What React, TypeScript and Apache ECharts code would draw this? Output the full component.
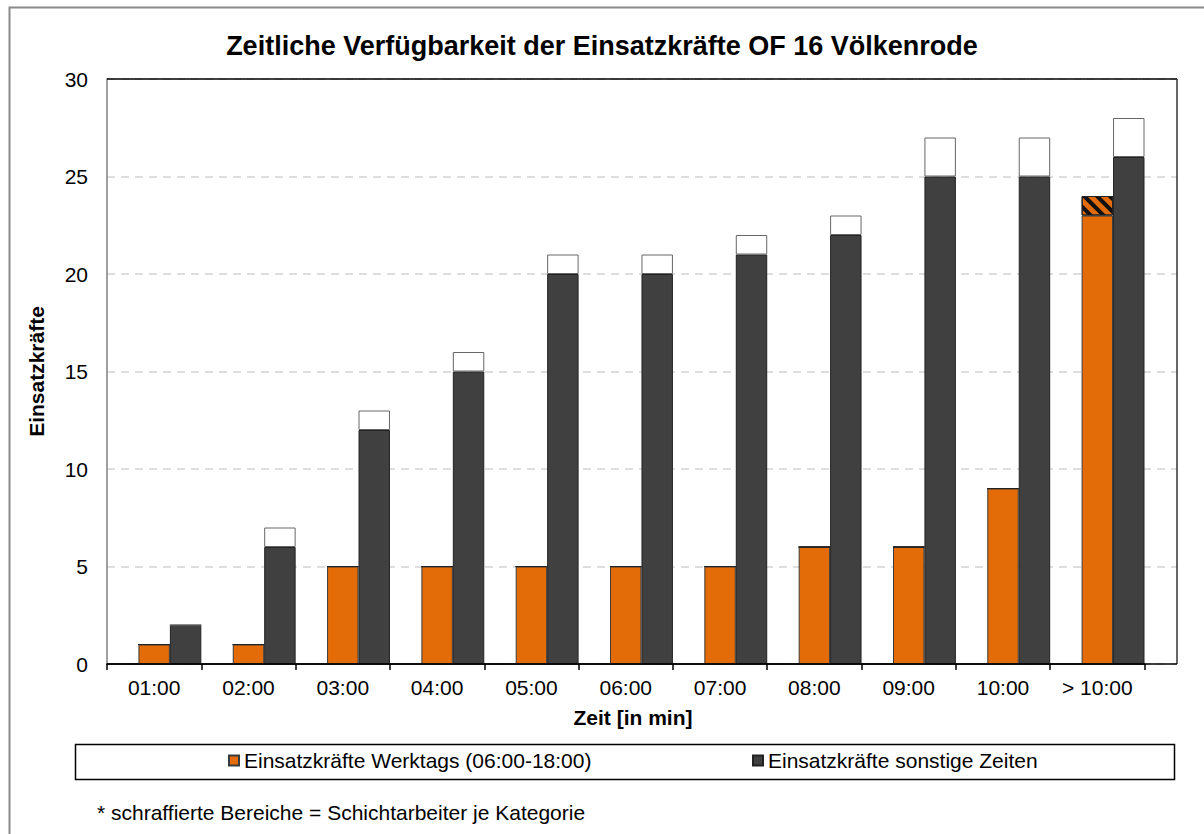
import React, { useEffect, useRef } from 'react';
import * as echarts from 'echarts';

const categories = ['01:00', '02:00', '03:00', '04:00', '05:00', '06:00', '07:00', '08:00', '09:00', '10:00', '> 10:00'];
const werktags = [1, 1, 5, 5, 5, 5, 5, 6, 6, 9, 23];
const werktagsSchicht = [0, 0, 0, 0, 0, 0, 0, 0, 0, 0, 1];
const sonstige = [2, 6, 12, 15, 20, 20, 21, 22, 25, 25, 26];
const sonstigeSchicht = [0, 1, 1, 1, 1, 1, 1, 1, 2, 2, 2];
const spacer = [0, 0, 0, 0, 0, 0, 0, 0, 0, 0, 0];
const yMin = 0;
const yMax = 30;
const yStep = 5;

const titleText = 'Zeitliche Verfügbarkeit der Einsatzkräfte OF 16 Völkenrode';
const nameWerktags = 'Einsatzkräfte Werktags (06:00-18:00)';
const nameSonstige = 'Einsatzkräfte sonstige Zeiten';
const yName = 'Einsatzkräfte';
const xName = 'Zeit [in min]';
const footnote = '* schraffierte Bereiche = Schichtarbeiter je Kategorie';

const FONT = '"Liberation Sans", Arial, sans-serif';
const ORANGE = '#E36C09';
const DARK = '#404040';

export default function App() {
  const ref = useRef<HTMLDivElement>(null);
  useEffect(() => {
    if (!ref.current) return;
    const chart = echarts.init(ref.current, undefined, { renderer: 'svg' });
    const L = 107, T = 79, B = 664, R1 = 1144.5, R2 = 1177;
    const H = B - T;
    const legendText = { fontSize: 21, color: '#000', fontFamily: FONT };
    chart.setOption({
      animation: false,
      backgroundColor: '#fff',
      textStyle: { fontFamily: FONT },
      title: {
        text: titleText,
        left: 'center',
        top: 27,
        textStyle: { fontSize: 27, fontWeight: 'bold', color: '#000', fontFamily: FONT },
      },
      grid: [
        { left: L, top: T, width: R1 - L, height: H },
        { left: L, top: T, width: R2 - L, height: H },
      ],
      legend: [
        {
          data: [nameWerktags], left: 223, top: 745, itemWidth: 10, itemHeight: 10,
          icon: 'rect', selectedMode: false, textStyle: legendText,
        },
        {
          data: [nameSonstige], left: 747, top: 745, itemWidth: 10, itemHeight: 10,
          icon: 'rect', selectedMode: false, textStyle: legendText,
        },
      ],
      xAxis: [
        {
          type: 'category', gridIndex: 0, data: categories,
          axisLine: { show: true, lineStyle: { color: '#000', width: 1.5 } },
          axisTick: { show: true, length: 6, lineStyle: { color: '#000', width: 1.5 } },
          axisLabel: { fontSize: 21, color: '#000', margin: 13, fontFamily: FONT },
          splitLine: { show: false },
        },
        { type: 'value', gridIndex: 1, min: 0, max: 1, show: false },
      ],
      yAxis: [
        {
          type: 'value', gridIndex: 0, min: yMin, max: yMax, interval: yStep,
          axisLine: { show: true, lineStyle: { color: '#808080', width: 1.5 } },
          axisTick: { show: false },
          axisLabel: { fontSize: 21, color: '#000', margin: 19, fontFamily: FONT },
          splitLine: { show: false },
        },
        {
          type: 'value', gridIndex: 1, min: yMin, max: yMax, interval: yStep,
          axisLine: { show: false }, axisTick: { show: false }, axisLabel: { show: false },
          splitLine: { show: true, lineStyle: { color: '#d4d4d4', width: 1.5, type: [8, 6] } },
        },
      ],
      series: [
        {
          name: 'spacer', type: 'bar', stack: 'spacer', xAxisIndex: 0, yAxisIndex: 0,
          data: spacer, itemStyle: { color: 'rgba(0,0,0,0)', borderWidth: 0 }, silent: true,
          barCategoryGap: '0%', barGap: '0%',
        },
        {
          name: nameWerktags, type: 'bar', stack: 'w', xAxisIndex: 0, yAxisIndex: 0,
          data: werktags, itemStyle: { color: ORANGE, borderColor: '#3a3a3a', borderWidth: 1 },
          barCategoryGap: '0%', barGap: '0%',
        },
        {
          name: 'Schichtarbeiter Werktags', type: 'bar', stack: 'w', xAxisIndex: 0, yAxisIndex: 0,
          data: werktagsSchicht,
          itemStyle: {
            color: ORANGE, borderColor: '#222', borderWidth: 1,
            decal: {
              symbol: 'rect', symbolSize: 1, color: '#111',
              dashArrayX: [1, 0], dashArrayY: [4, 5], rotation: Math.PI / 4,
            },
          },
          barCategoryGap: '0%', barGap: '0%',
        },
        {
          name: nameSonstige, type: 'bar', stack: 's', xAxisIndex: 0, yAxisIndex: 0,
          data: sonstige, itemStyle: { color: DARK, borderColor: '#222', borderWidth: 1 },
          barCategoryGap: '0%', barGap: '0%',
        },
        {
          name: 'Schichtarbeiter sonstige', type: 'bar', stack: 's', xAxisIndex: 0, yAxisIndex: 0,
          data: sonstigeSchicht, itemStyle: { color: '#fff', borderColor: '#666', borderWidth: 1 },
          barCategoryGap: '0%', barGap: '0%',
        },
      ],
      graphic: [
        {
          type: 'rect', silent: true, z: -1,
          shape: { x: 9.5, y: 7.5, width: 1220, height: 850 },
          style: { fill: 'none', stroke: '#8a8a8a', lineWidth: 2 },
        },
        { type: 'line', silent: true, z: 20, shape: { x1: L, y1: T, x2: R2, y2: T }, style: { stroke: '#000', lineWidth: 1.5 } },
        { type: 'line', silent: true, z: 20, shape: { x1: R2, y1: T, x2: R2, y2: B }, style: { stroke: '#333', lineWidth: 1.5 } },
        { type: 'line', silent: true, z: 20, shape: { x1: L, y1: B, x2: R2, y2: B }, style: { stroke: '#000', lineWidth: 1.5 } },
        {
          type: 'rect', silent: true,
          shape: { x: 75.5, y: 744.5, width: 1099, height: 35 },
          style: { fill: 'none', stroke: '#000', lineWidth: 1.5 },
        },
        {
          type: 'text', silent: true, x: 36, y: (T + B) / 2, rotation: Math.PI / 2,
          style: { text: yName, font: `bold 21px ${FONT}`, fill: '#000', align: 'center', verticalAlign: 'middle' },
        },
        {
          type: 'text', silent: true, x: 633, y: 717,
          style: { text: xName, font: `bold 21px ${FONT}`, fill: '#000', align: 'center', verticalAlign: 'middle' },
        },
        {
          type: 'text', silent: true, x: 97, y: 812,
          style: { text: footnote, font: `21px ${FONT}`, fill: '#000', align: 'left', verticalAlign: 'middle' },
        },
      ],
    });
    return () => chart.dispose();
  }, []);
  return <div ref={ref} style={{ position: 'absolute', left: 0, top: 0, width: 1204, height: 834 }} />;
}
